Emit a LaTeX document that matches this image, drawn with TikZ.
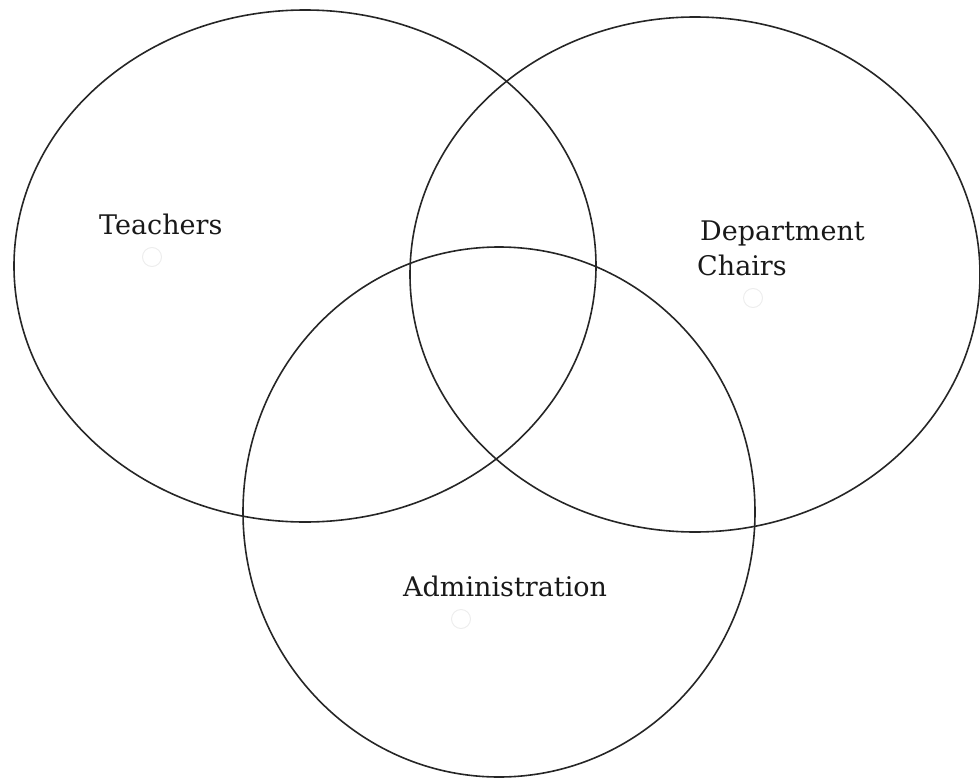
\documentclass[tikz,border=0pt]{standalone}
\usepackage{fontspec}
\setmainfont{DejaVu Serif}
\usetikzlibrary{shapes.geometric}
\begin{document}
\begin{tikzpicture}[x=1pt,y=-1pt,
  setshape/.style={ellipse,draw=black!85,line width=1.6pt,inner sep=0pt,outer sep=0pt},
  lbl/.style={anchor=base west,inner sep=0pt,font=\fontsize{27}{34}\selectfont,text=black!90},
  faint/.style={circle,draw=black!7,line width=1pt,minimum size=19pt,inner sep=0pt}]
\useasboundingbox (0,0) rectangle (980,779);
\node[setshape,minimum width=582pt,minimum height=512pt] (teach) at (305,266) {};
\node[setshape,minimum width=570pt,minimum height=515pt] (dept) at (695,274.5) {};
\node[setshape,minimum width=512pt,minimum height=530pt] (admin) at (499,512) {};
\node[faint] (c1) at (152,257) {};
\node[faint] (c2) at (753,298) {};
\node[faint] (c3) at (461,619) {};
\node[lbl] (lt) at (99,234) {Teachers};
\node[lbl] (ld1) at (700,240) {Department};
\node[lbl] (ld2) at (697,275) {Chairs};
\node[lbl] (la) at (403,596) {Administration};
\end{tikzpicture}
\end{document}
